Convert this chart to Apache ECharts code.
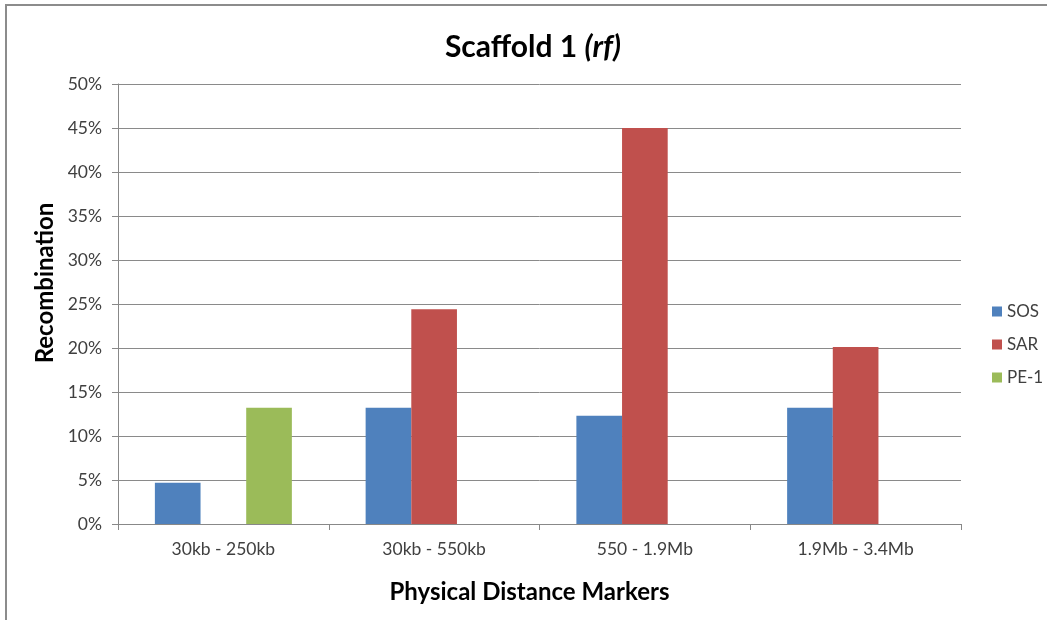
<!DOCTYPE html>
<html>
<head>
<meta charset="utf-8">
<script src="https://cdn.jsdelivr.net/npm/echarts@6/dist/echarts.min.js"></script>
<style>
html,body{margin:0;padding:0;background:#fff;}
#chart{width:1047px;height:620px;}
</style>
</head>
<body>
<div id="chart"></div>
<script>
const categories = ['30kb - 250kb', '30kb - 550kb', '550 - 1.9Mb', '1.9Mb - 3.4Mb'];
const sosValues = [4.7, 13.2, 12.3, 13.2];
const sarValues = [null, 24.4, 45.0, 20.1];
const pe1Values = [13.2, null, null, null];
const yTicks = [0, 5, 10, 15, 20, 25, 30, 35, 40, 45, 50];

const font = 'Lato, "Open Sans", sans-serif';
const chart = echarts.init(document.getElementById('chart'), null, {renderer: 'canvas'});
chart.setOption({
  backgroundColor: '#ffffff',
  animation: false,
  title: {
    text: 'Scaffold 1 {i|(rf)}',
    left: 528, top: 27, textAlign: 'center',
    textStyle: {
      fontFamily: font, fontSize: 30, fontWeight: 'bold', color: '#000',
      rich: {i: {fontFamily: font, fontSize: 30, fontWeight: 'bold', fontStyle: 'italic', color: '#000'}}
    }
  },
  legend: {
    orient: 'vertical', left: 987, top: 298, itemGap: 16,
    itemWidth: 10, itemHeight: 10, icon: 'rect',
    textStyle: {fontFamily: font, fontSize: 17, color: '#404040'},
    data: ['SOS', 'SAR', 'PE-1']
  },
  grid: {left: 118, right: 86, top: 84, bottom: 96, containLabel: false},
  xAxis: {
    type: 'category', data: categories,
    name: 'Physical Distance Markers', nameLocation: 'middle', nameGap: 56,
    nameTextStyle: {fontFamily: font, fontSize: 24, fontWeight: 'bold', color: '#000', padding: [0, 20, 0, 0]},
    axisLine: {lineStyle: {color: '#888', width: 1}},
    axisTick: {show: true, length: 6, lineStyle: {color: '#888'}},
    axisLabel: {fontFamily: font, fontSize: 17.5, color: '#404040', margin: 16}
  },
  yAxis: {
    type: 'value', min: 0, max: 50, interval: 5,
    name: 'Recombination', nameLocation: 'middle', nameGap: 56, nameRotate: 90,
    nameTextStyle: {fontFamily: font, fontSize: 24, fontWeight: 'bold', color: '#000', padding: [0, 0, 0, 42]},
    axisLine: {show: true, lineStyle: {color: '#888'}},
    axisTick: {show: true, length: 6, inside: false, lineStyle: {color: '#888'}},
    splitLine: {lineStyle: {color: '#8a8a8a', width: 1}},
    axisLabel: {fontFamily: font, fontSize: 17.5, color: '#404040', margin: 16,
      formatter: v => yTicks.includes(v) ? v + '%' : ''}
  },
  series: [
    {name: 'SOS', type: 'bar', data: sosValues, barGap: '0%', barCategoryGap: '35%', itemStyle: {color: '#4f81bd'}},
    {name: 'SAR', type: 'bar', data: sarValues, barGap: '0%', barCategoryGap: '35%', itemStyle: {color: '#c0504d'}},
    {name: 'PE-1', type: 'bar', data: pe1Values, barGap: '0%', barCategoryGap: '35%', itemStyle: {color: '#9bbb59'}}
  ],
  graphic: [
    {type: 'polyline', shape: {points: [[6, 620], [6, 5], [1047, 5]]}, style: {stroke: '#8c8c8c', lineWidth: 2, fill: null}, silent: true}
  ]
});
</script>
</body>
</html>
